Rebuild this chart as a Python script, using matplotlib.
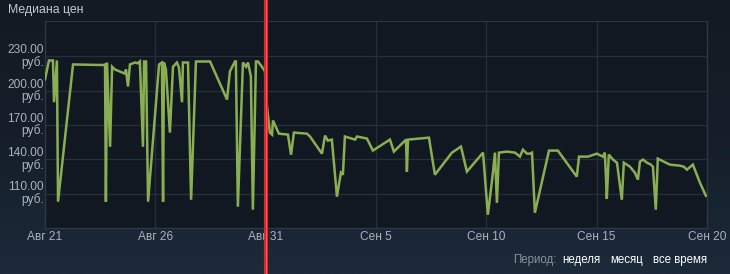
import numpy as np
import pandas as pd
import matplotlib
matplotlib.use("Agg")
import matplotlib.pyplot as plt

# days since Aug 21 (fractional) and median price
days = [0.00, 0.18, 0.36, 0.41, 0.54, 0.59, 1.27, 2.63, 2.72, 2.76, 2.81, 2.95, 3.04, 3.17,
        3.62, 3.67, 3.76, 3.85, 4.08, 4.21, 4.30, 4.44, 4.49, 4.58, 4.67, 5.17, 5.30, 5.35,
        5.39, 5.48, 5.66, 5.80, 5.98, 6.07, 6.21, 6.25, 6.48, 6.62, 6.84, 7.48, 8.25, 8.38,
        8.47, 8.61, 8.65, 8.74, 8.97, 9.11, 9.20, 9.33, 9.42, 9.56, 9.65, 9.83, 9.97, 10.06,
        10.19, 10.29, 10.33, 10.60, 11.01, 11.15, 11.28, 11.87, 12.01, 12.55, 12.69, 12.82,
        13.00, 13.23, 13.41, 13.50, 13.59, 14.05, 14.14, 14.59, 14.86, 15.63, 15.81, 16.36,
        16.40, 16.45, 17.40, 17.67, 18.44, 18.85, 19.12, 19.85, 20.07, 20.30, 20.39, 20.48,
        20.57, 20.93, 21.30, 21.52, 21.66, 21.84, 21.98, 22.07, 22.20, 22.84, 23.24, 24.10,
        24.20, 24.60, 25.01, 25.28, 25.37, 25.42, 25.46, 25.55, 25.74, 25.92, 26.14, 26.23,
        26.51, 26.73, 26.87, 26.96, 27.10, 27.28, 27.46, 27.55, 27.68, 27.77, 28.32, 28.77,
        28.95, 29.09, 29.36, 29.68, 29.95]
prices = [210.0, 226.5, 226.5, 190.0, 226.5, 103.0, 223.0, 222.5, 223.0, 103.0, 224.7, 151.0,
          221.0, 218.6, 215.0, 218.6, 203.7, 223.0, 224.7, 224.0, 225.6, 151.0, 225.6, 225.6,
          103.0, 223.0, 224.7, 103.0, 224.7, 218.6, 163.4, 221.0, 224.7, 220.4, 190.0, 224.7,
          224.7, 104.7, 225.6, 225.6, 192.3, 216.9, 220.4, 225.6, 225.6, 98.6, 224.7, 221.0,
          224.7, 212.5, 96.0, 225.6, 225.6, 221.0, 216.9, 186.2, 163.4, 161.7, 174.0, 162.5,
          161.7, 144.0, 163.4, 162.5, 160.0, 145.0, 160.8, 156.4, 157.3, 107.4, 128.4, 126.6,
          160.0, 157.3, 160.0, 158.2, 147.7, 157.3, 146.8, 157.3, 129.3, 157.3, 159.0, 126.6,
          145.9, 151.2, 129.3, 145.9, 91.6, 128.4, 145.9, 102.0, 145.9, 146.8, 145.9, 142.4,
          148.5, 145.0, 145.0, 145.9, 93.3, 147.7, 147.7, 124.9, 142.4, 142.4, 145.0, 142.4,
          145.9, 124.9, 105.6, 144.2, 139.8, 137.1, 104.7, 137.1, 133.6, 128.4, 122.3, 138.0,
          139.8, 137.1, 135.4, 133.6, 96.0, 140.6, 135.4, 134.5, 133.6, 131.0, 135.4, 119.6,
          108.2]

start = pd.Timestamp("2023-08-21")
marker_day = 10.0

tick_dates = ["2023-08-21", "2023-08-26", "2023-08-31", "2023-09-05",
              "2023-09-10", "2023-09-15", "2023-09-20"]
tick_labels = ["Авг 21", "Авг 26", "Авг 31", "Сен 5", "Сен 10", "Сен 15", "Сен 20"]
y_ticks = [110, 140, 170, 200, 230]

plt.rcParams['font.family'] = ['Liberation Sans', 'DejaVu Sans']

dates = start + pd.to_timedelta(days, unit="D")

fig = plt.figure(figsize=(7.3, 2.74), dpi=100)
fig.patch.set_facecolor("#141c26")

# background gradient
bg = fig.add_axes([0, 0, 1, 1], zorder=-10)
grad = np.linspace(0, 1, 256).reshape(-1, 1)
cmap = matplotlib.colors.LinearSegmentedColormap.from_list("bg", ["#131a23", "#151e29", "#1c2a3a"])
bg.imshow(grad, aspect="auto", cmap=cmap, extent=[0, 1, 0, 1], origin="upper")
bg.axis("off")

ax = fig.add_axes([45 / 730, 1 - 228 / 274, 662 / 730, 207 / 274])
ax.set_facecolor("#111822")

ax.plot(dates, prices, color="#8aaf52", lw=1.8, solid_joinstyle="miter", zorder=3)

ax.set_xlim(pd.Timestamp(tick_dates[0]), pd.Timestamp(tick_dates[-1]))
ax.set_ylim(80, 261)

ax.set_xticks(pd.to_datetime(tick_dates))
ax.set_xticklabels(tick_labels)
ax.set_yticks(y_ticks)
ax.set_yticklabels([f"{v:.2f}\nруб." for v in y_ticks], ha="right", va="center",
                   linespacing=0.95)
ax.tick_params(axis="both", length=0, colors="#aab3bc", labelsize=8.6)
ax.tick_params(axis="y", pad=1)
ax.tick_params(axis="x", pad=2)

ax.grid(True, color="#26303b", lw=0.9)
ax.axhline(261, color="#2c3742", lw=1.5)
for s in ax.spines.values():
    s.set_color("#2c3742")
    s.set_linewidth(1.0)
ax.spines["top"].set_visible(False)

# red marker line across the whole figure height
bot = -(1 - 228 / 274) / (207 / 274)
top = 1 + (21 / 274) / (207 / 274)
mx = start + pd.Timedelta(days=marker_day)
ax.axvline(mx, ymin=bot, ymax=top, color="#d8262a", lw=3.0, clip_on=False, zorder=5)
ax.axvline(mx, ymin=bot, ymax=top, color="#f25a5a", lw=0.8, clip_on=False, zorder=6)

fig.text(8 / 730, 1 - 10 / 274, "Медиана цен", color="#c0c8d0", fontsize=8.8, va="center", ha="left")
fig.text(513 / 730, 1 - 260 / 274, "Период:", color="#8a939c", fontsize=8.3, va="center", ha="left")
fig.text(562 / 730, 1 - 260 / 274, "неделя", color="#ffffff", fontsize=8.3, va="center", ha="left")
fig.text(610 / 730, 1 - 260 / 274, "месяц", color="#ffffff", fontsize=8.3, va="center", ha="left")
fig.text(653 / 730, 1 - 260 / 274, "все время", color="#ffffff", fontsize=8.3, va="center", ha="left")

fig.savefig("out.png", dpi=100, facecolor=fig.get_facecolor())
